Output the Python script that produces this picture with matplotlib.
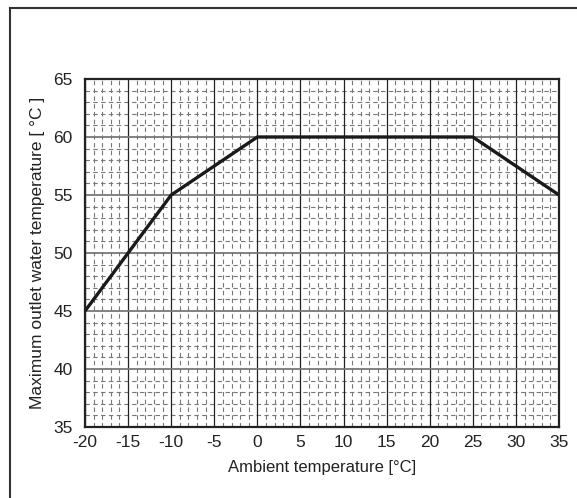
import matplotlib
matplotlib.use("Agg")
import matplotlib.pyplot as plt
from matplotlib.lines import Line2D
import numpy as np

plt.rcParams['font.family'] = ['Liberation Sans', 'DejaVu Sans']

ambient = [-20, -10, 0, 25, 35]
max_outlet = [45, 55, 60, 60, 55]
xticks = [-20, -15, -10, -5, 0, 5, 10, 15, 20, 25, 30, 35]
yticks = [35, 40, 45, 50, 55, 60, 65]

fig = plt.figure(figsize=(5.77, 4.98), dpi=100)
W, H = 577, 498
ax = fig.add_axes([85 / W, 1 - 427 / H, (559 - 85) / W, (427 - 79) / H])

ax.set_xlim(-20, 35)
ax.set_ylim(35, 65)

# minor grid
for x in np.arange(-20, 36, 1):
    if x % 5 != 0:
        ax.axvline(x, color='#777777', lw=0.8, ls=(0, (4, 3)), zorder=1)
for y in np.arange(35, 66, 1):
    if y % 5 != 0:
        ax.axhline(y, color='#777777', lw=0.8, ls=(0, (4, 3)), zorder=1)
# major grid
for x in xticks:
    ax.axvline(x, color='#222222', lw=0.9, zorder=2)
for y in yticks:
    ax.axhline(y, color='#777777', lw=1.3, zorder=2)

ax.plot(ambient, max_outlet, color='#1a1a1a', lw=2.4, zorder=5, solid_joinstyle='miter')

ax.set_xticks(xticks)
ax.set_yticks(yticks)
ax.set_xticklabels([str(t) for t in xticks])
ax.tick_params(length=0, labelsize=12.5, colors='#222222')
ax.tick_params(axis='y', pad=9)
ax.tick_params(axis='x', pad=6)
for s in ax.spines.values():
    s.set_linewidth(1.6)
    s.set_color('#222222')
    s.set_zorder(6)

ax.set_xlabel('Ambient temperature [°C]', fontsize=12, color='#222222', labelpad=7)
ax.set_ylabel('Maximum outlet water temperature [ °C ]', fontsize=12.5, color='#222222', labelpad=6)

# outer frame (top and left visible)
fig.add_artist(Line2D([9.5 / W, 9.5 / W], [0, 1 - 8.5 / H], transform=fig.transFigure, color='#333333', lw=1.5))
fig.add_artist(Line2D([9.5 / W, 1], [1 - 8.5 / H, 1 - 8.5 / H], transform=fig.transFigure, color='#333333', lw=1.5))

fig.savefig('out.png', dpi=100)
